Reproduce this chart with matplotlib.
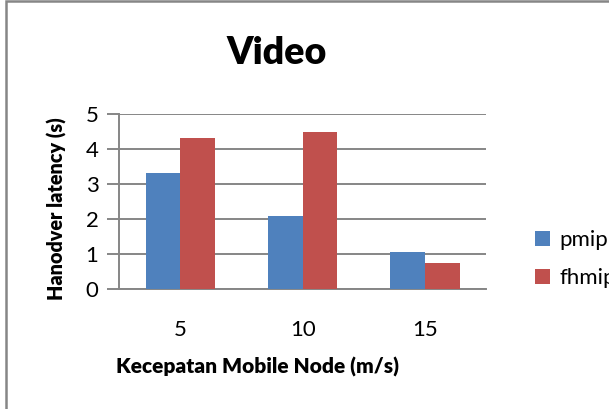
import matplotlib
matplotlib.use("Agg")
import matplotlib.pyplot as plt
from matplotlib.patches import Rectangle
import numpy as np

categories = ["5", "10", "15"]
pmip = [3.31, 2.09, 1.06]
fhmip = [4.32, 4.50, 0.74]
series_names = ["pmip", "fhmip"]
colors = ["#4F81BD", "#C0504D"]
yticks = [0, 1, 2, 3, 4, 5]

plt.rcParams['font.family'] = ['Lato', 'DejaVu Sans']

W, H = 609, 409
fig = plt.figure(figsize=(W / 100, H / 100), dpi=100)
fig.patch.set_facecolor("white")

# outer chart frame (runs off the right and bottom edges)
fig.patches.append(Rectangle((6 / W, -0.1), 1.2, 1 - 1 / H + 0.1, transform=fig.transFigure,
                             fill=False, edgecolor="#868686", linewidth=1.8))

ax = fig.add_axes([119.3 / W, 1 - 289.3 / H, (486 - 119.3) / W, (289.3 - 114) / H])
x = np.arange(len(categories))
bw = 0.285
ax.bar(x - bw / 2, pmip, bw, color=colors[0], label=series_names[0], zorder=3)
ax.bar(x + bw / 2, fhmip, bw, color=colors[1], label=series_names[1], zorder=3)

ax.set_xlim(-0.5, 2.5)
ax.set_ylim(0, 5)
ax.set_yticks(yticks)
ax.set_xticks(x)
ax.set_xticklabels(categories)
ax.yaxis.grid(True, color="#868686", linewidth=1.4, zorder=0)
ax.set_axisbelow(True)
for s in ["top", "right"]:
    ax.spines[s].set_visible(False)
ax.spines["left"].set_color("#868686")
ax.spines["left"].set_linewidth(1.4)
ax.spines["bottom"].set_color("#868686")
ax.spines["bottom"].set_linewidth(1.4)
ax.tick_params(axis="y", length=9, width=1.4, color="#868686", labelsize=16, pad=6)
ax.tick_params(axis="x", length=0, labelsize=16, pad=22)

# axis titles placed in figure pixels
fig.text(258 / W, 1 - 367 / H, "Kecepatan Mobile Node (m/s)", fontsize=15, fontweight="heavy",
         ha="center", va="center")
fig.text(57 / W, 1 - 209 / H, "Hanodver latency (s)", fontsize=14.2, fontweight="heavy",
         ha="center", va="center", rotation=90)

fig.text(277 / W, 1 - 53 / H, "Video", fontsize=27, fontweight="heavy", ha="center", va="center")

ax.legend(loc="upper left", bbox_to_anchor=(524 / W, 1 - 219 / H), bbox_transform=fig.transFigure,
          frameon=False, fontsize=16, handlelength=0.65, handleheight=0.65,
          handletextpad=0.45, labelspacing=0.8, borderpad=0)

fig.savefig("out.png", dpi=100)
